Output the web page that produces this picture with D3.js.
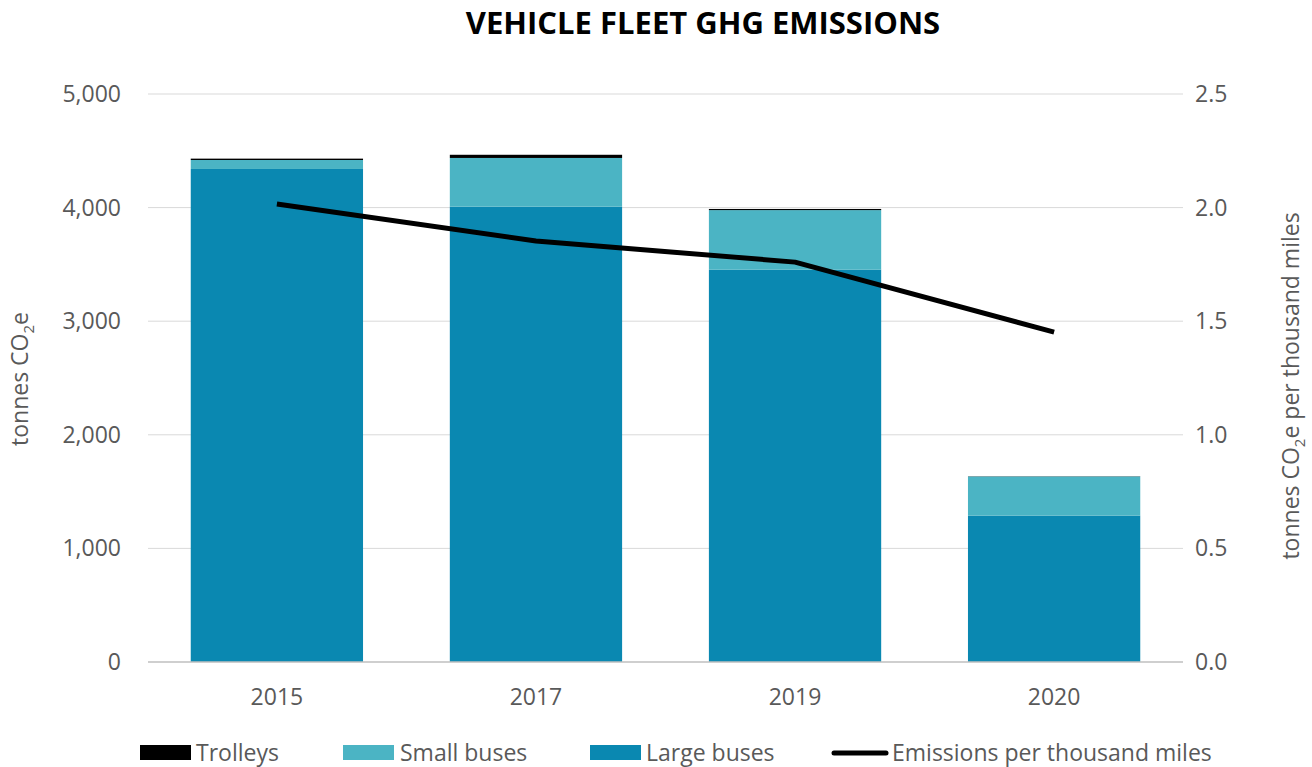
<!DOCTYPE html>
<html>
<head>
<meta charset="utf-8">
<script src="https://cdn.jsdelivr.net/npm/d3@7"></script>
<style>
  body { margin: 0; background: #fff; }
  svg text { font-family: "Open Sans", sans-serif; }
</style>
</head>
<body>
<div id="chart"></div>
<script>
// data
const years = ['2015', '2017', '2019', '2020'];
const largeBuses = [4340, 4008, 3453, 1288];
const smallBuses = [79, 429, 525, 345];
const trolleys = [12, 28, 10, 2];
const perThousandMiles = [2.016, 1.853, 1.76, 1.452];
const leftTicks = [0, 1000, 2000, 3000, 4000, 5000];
const rightTicks = [0, 0.5, 1.0, 1.5, 2.0, 2.5];

const W = 1312, H = 767;
const m = { left: 148, right: 1183, top: 94, bottom: 662 };
const C = { large: '#0a88b1', small: '#4bb4c4', trolley: '#000', grid: '#d9d9d9', text: '#595959' };
const FS = 23;

const svg = d3.select('#chart').append('svg').attr('width', W).attr('height', H);

const x = d3.scaleBand().domain(years).range([m.left, m.right]).paddingInner(0.335).paddingOuter(0.165);
const y = d3.scaleLinear().domain([0, 5000]).range([m.bottom, m.top]);
const y2 = d3.scaleLinear().domain([0, 2.5]).range([m.bottom, m.top]);

// gridlines
svg.append('g').selectAll('line').data(leftTicks.slice(1)).join('line')
  .attr('x1', m.left).attr('x2', m.right)
  .attr('y1', d => y(d)).attr('y2', d => y(d))
  .attr('stroke', C.grid).attr('stroke-width', 1);

// stacked bars
const rows = years.map((yr, i) => ({ year: yr, large: largeBuses[i], small: smallBuses[i], trolley: trolleys[i] }));
const stack = d3.stack().keys(['large', 'small', 'trolley'])(rows);
svg.append('g').selectAll('g').data(stack).join('g')
  .attr('fill', d => C[d.key])
  .selectAll('rect').data(d => d).join('rect')
  .attr('x', d => x(d.data.year))
  .attr('width', x.bandwidth())
  .attr('y', d => y(d[1]))
  .attr('height', d => y(d[0]) - y(d[1]));

// baseline
svg.append('line').attr('x1', m.left).attr('x2', m.right)
  .attr('y1', m.bottom).attr('y2', m.bottom).attr('stroke', '#bfbfbf').attr('stroke-width', 1.5);

// line series
const line = d3.line().x((d, i) => x(years[i]) + x.bandwidth() / 2).y(d => y2(d));
svg.append('path').attr('d', line(perThousandMiles))
  .attr('fill', 'none').attr('stroke', '#000').attr('stroke-width', 5).attr('stroke-linejoin', 'round');

// left axis labels
const fmt = d3.format(',');
svg.append('g').selectAll('text').data(leftTicks).join('text')
  .attr('x', 121).attr('y', d => y(d)).attr('dy', '0.35em')
  .attr('text-anchor', 'end').attr('font-size', FS).attr('fill', C.text)
  .text(d => fmt(d));

// right axis labels
svg.append('g').selectAll('text').data(rightTicks).join('text')
  .attr('x', 1195).attr('y', d => y2(d)).attr('dy', '0.35em')
  .attr('font-size', FS).attr('fill', C.text)
  .text(d => d3.format('.1f')(d));

// x labels
svg.append('g').selectAll('text').data(years).join('text')
  .attr('x', d => x(d) + x.bandwidth() / 2).attr('y', 697).attr('dy', '0.35em')
  .attr('text-anchor', 'middle').attr('font-size', FS).attr('fill', C.text)
  .text(d => d);

// title
svg.append('text').attr('x', 703).attr('y', 34).attr('text-anchor', 'middle')
  .attr('font-size', 31).attr('font-weight', 700).attr('fill', '#000')
  .text('VEHICLE FLEET GHG EMISSIONS');

// axis titles
function axisTitle(tx, ty, tail) {
  const t = svg.append('text').attr('transform', `translate(${tx},${ty}) rotate(-90)`)
    .attr('text-anchor', 'middle').attr('font-size', FS).attr('fill', C.text);
  t.append('tspan').text('tonnes CO');
  t.append('tspan').attr('font-size', 15).attr('dy', 6).text('2');
  t.append('tspan').attr('dy', -6).text('e' + tail);
}
axisTitle(28, 379, '');
axisTitle(1299, 386, ' per thousand miles');

// legend
const legend = [
  { label: 'Trolleys', type: 'rect', color: C.trolley, x: 140, tx: 196 },
  { label: 'Small buses', type: 'rect', color: C.small, x: 343, tx: 400 },
  { label: 'Large buses', type: 'rect', color: C.large, x: 590, tx: 646 },
  { label: 'Emissions per thousand miles', type: 'line', color: '#000', x: 834, tx: 892 }
];
const lg = svg.append('g').selectAll('g').data(legend).join('g');
lg.filter(d => d.type === 'rect').append('rect')
  .attr('x', d => d.x).attr('y', 745).attr('width', 51).attr('height', 15).attr('fill', d => d.color);
lg.filter(d => d.type === 'line').append('line')
  .attr('x1', d => d.x).attr('x2', d => d.x + 52).attr('y1', 753).attr('y2', 753)
  .attr('stroke', '#000').attr('stroke-width', 5).attr('stroke-linecap', 'round');
lg.append('text').attr('x', d => d.tx).attr('y', 753).attr('dy', '0.35em')
  .attr('font-size', FS).attr('fill', C.text).text(d => d.label);
</script>
</body>
</html>
